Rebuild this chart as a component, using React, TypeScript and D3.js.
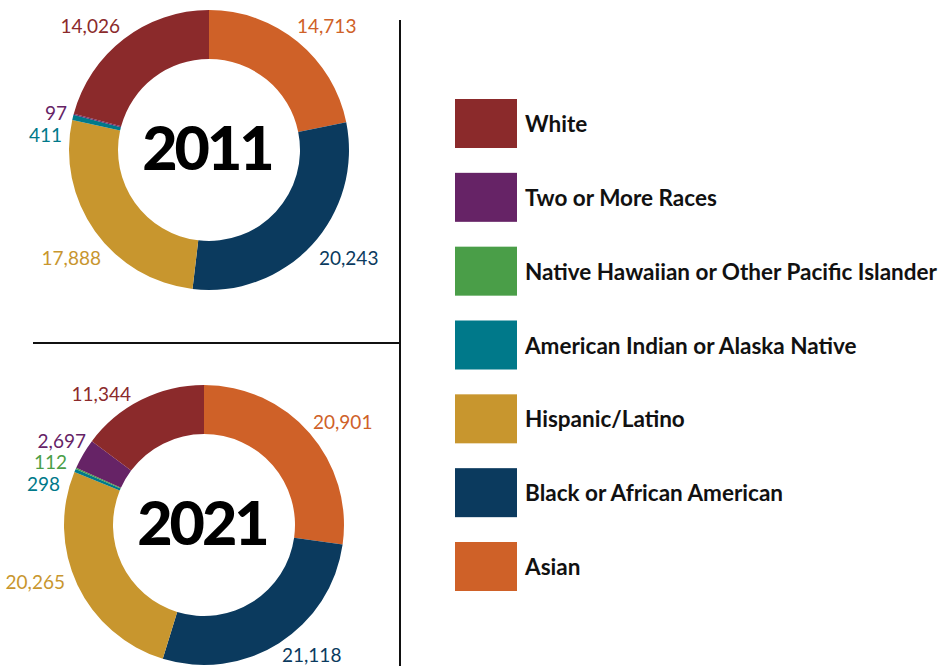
import React from "react";
import * as d3 from "d3";

// Order: clockwise from 12 o'clock
const categories = [
  "Asian",
  "Black or African American",
  "Hispanic/Latino",
  "American Indian or Alaska Native",
  "Native Hawaiian or Other Pacific Islander",
  "Two or More Races",
  "White",
];
const colors = ["#CF6128", "#0B3A5E", "#C8962E", "#00798A", "#4A9E48", "#662366", "#8B2A2B"];

const values2011 = [14713, 20243, 17888, 411, 0, 97, 14026];
const values2021 = [20901, 21118, 20265, 298, 112, 2697, 11344];
const years = ["2011", "2021"];

// Legend order (top to bottom)
const legendOrder = [
  "White",
  "Two or More Races",
  "Native Hawaiian or Other Pacific Islander",
  "American Indian or Alaska Native",
  "Hispanic/Latino",
  "Black or African American",
  "Asian",
];

// label placement relative to donut center: [dx, dy, anchor]
const labelPos2011: [number, number, string][] = [
  [88, -117, "start"],
  [110, 115, "start"],
  [-108, 115, "end"],
  [-147, -8, "end"],
  [0, 0, "none"],
  [-142, -30, "end"],
  [-89, -117, "end"],
];
const labelPos2021: [number, number, string][] = [
  [109, -96, "start"],
  [78, 137, "start"],
  [-139, 64, "end"],
  [-144, -34, "end"],
  [-137, -56, "end"],
  [-118, -77, "end"],
  [-73, -124, "end"],
];

const fmt = d3.format(",");

function Donut({ cx, cy, values, year, labels }: { cx: number; cy: number; values: number[]; year: string; labels: [number, number, string][] }) {
  const pie = d3.pie<number>().sort(null).value((d) => d);
  const arcs = pie(values);
  const arc = d3.arc<d3.PieArcDatum<number>>().innerRadius(91).outerRadius(140);
  return (
    <g transform={`translate(${cx},${cy})`}>
      {arcs.map((a, i) => (
        <path key={i} d={arc(a) || ""} fill={colors[i]} />
      ))}
      {arcs.map((a, i) =>
        labels[i][2] === "none" || values[i] === 0 ? null : (
          <text
            key={"l" + i}
            x={labels[i][0]}
            y={labels[i][1]}
            textAnchor={labels[i][2] as any}
            fill={colors[i]}
            fontFamily="Lato, sans-serif"
            fontSize={19}
          >
            {fmt(values[i])}
          </text>
        )
      )}
      <text
        x={-2}
        y={20}
        textAnchor="middle"
        fontFamily="Lato, sans-serif"
        fontWeight={900}
        fontSize={61}
        letterSpacing={-3}
        fill="#000"
      >
        {year}
      </text>
    </g>
  );
}

export default function App() {
  const legendY = d3.scalePoint<string>().domain(legendOrder).range([99, 542]);
  const colorOf = d3.scaleOrdinal<string, string>().domain(categories).range(colors);
  return (
    <svg width={944} height={666} style={{ position: "absolute", left: 0, top: 0, background: "#fff" }}>
      <rect width={944} height={666} fill="#fff" />
      <Donut cx={209} cy={150} values={values2011} year={years[0]} labels={labelPos2011} />
      <Donut cx={204} cy={525} values={values2021} year={years[1]} labels={labelPos2021} />
      <line x1={400} x2={400} y1={20} y2={666} stroke="#111" strokeWidth={2} />
      <line x1={33} x2={400} y1={343} y2={343} stroke="#111" strokeWidth={2} />
      {legendOrder.map((c) => (
        <g key={c} transform={`translate(455,${legendY(c)})`}>
          <rect width={62} height={49} fill={colorOf(c)} />
          <text x={70} y={33} fontFamily="Lato, sans-serif" fontWeight={700} fontSize={22.5} fill="#111">
            {c}
          </text>
        </g>
      ))}
    </svg>
  );
}
